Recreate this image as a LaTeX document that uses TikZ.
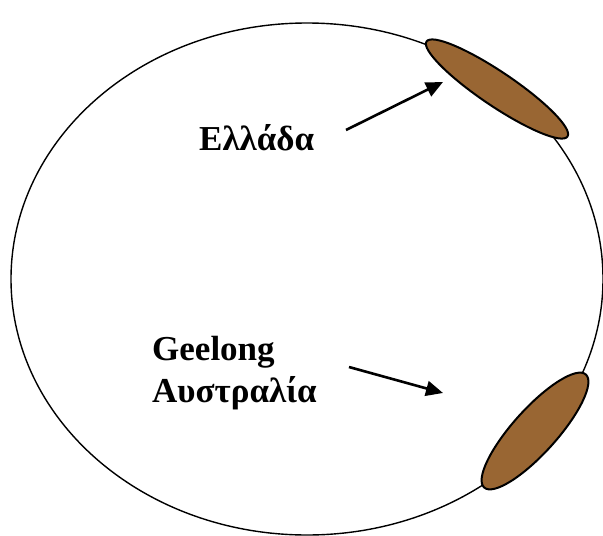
\documentclass[tikz,border=0pt]{standalone}
\usepackage{fontspec}
\setmainfont{Liberation Serif}
\usetikzlibrary{arrows.meta,shapes.geometric}
\definecolor{landbrown}{HTML}{996633}
\begin{document}
\begin{tikzpicture}[x=1pt,y=-1pt,
  land/.style={draw=black,line width=2pt,fill=landbrown,inner sep=0pt},
  label/.style={font=\fontsize{35}{42}\selectfont\bfseries,inner sep=0pt,anchor=base west},
  pointer/.style={line width=2.6pt,-{Triangle[length=17pt,width=15pt]}}]
\useasboundingbox (0,0) rectangle (603,536);
\draw[line width=1.4pt] (307,279) ellipse [x radius=296,y radius=256];
\node[land,ellipse,minimum width=170pt,minimum height=34pt,rotate=-34] (greece) at (497,89) {};
\node[land,ellipse,minimum width=152pt,minimum height=44pt,rotate=48] (geelong) at (535,431) {};
\node[label] (tg) at (199,150) {Ελλάδα};
\node[label] (ta) at (152,360) {Geelong};
\node[label] (tb) at (152,402) {Αυστραλία};
\coordinate (s1) at (346,130);
\coordinate (e1) at (443,82);
\coordinate (s2) at (349,367);
\coordinate (e2) at (443,393);
\draw[pointer] (s1) -- (e1);
\draw[pointer] (s2) -- (e2);
\end{tikzpicture}
\end{document}
